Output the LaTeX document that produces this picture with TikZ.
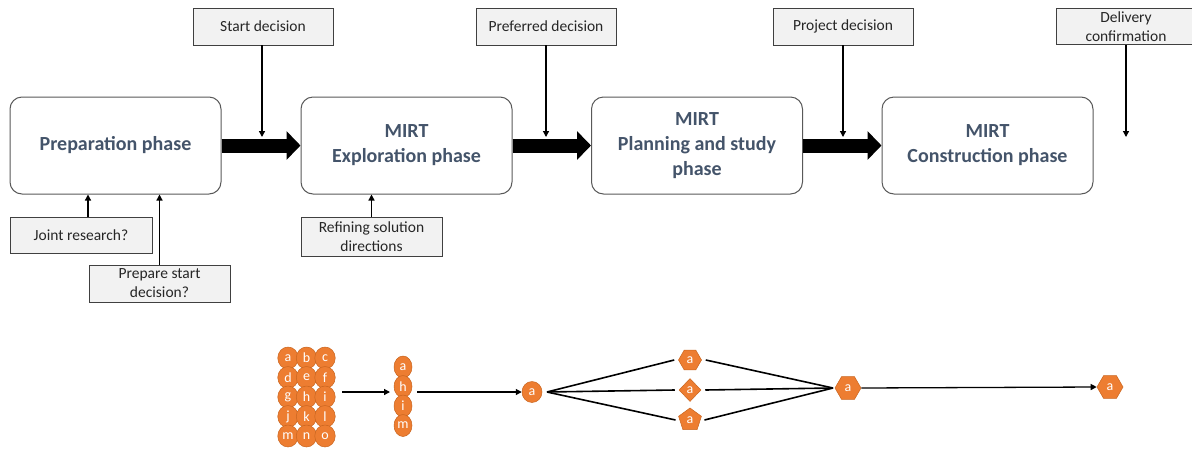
\documentclass[tikz,border=0pt]{standalone}
\usepackage{fontspec}
\setmainfont{Carlito}
\usetikzlibrary{arrows.meta,shapes.geometric}
\definecolor{phaseborder}{HTML}{595959}
\definecolor{titlecol}{HTML}{44546A}
\definecolor{gboxfill}{HTML}{F2F2F2}
\definecolor{gboxborder}{HTML}{404040}
\definecolor{gtext}{HTML}{262626}
\definecolor{orangefill}{HTML}{ED7D31}
\definecolor{orangeline}{HTML}{C9651F}
\begin{document}
\begin{tikzpicture}[x=1pt,y=-1pt,
  phase/.style={draw=phaseborder, line width=1pt, rounded corners=12pt, fill=white,
    font=\fontsize{20}{25}\selectfont\bfseries, text=titlecol, align=center,
    minimum width=211pt, minimum height=97pt, inner sep=0pt},
  gbox/.style={draw=gboxborder, fill=gboxfill, line width=0.8pt,
    font=\fontsize{15.5}{19}\selectfont, text=gtext, align=center,
    minimum width=140pt, minimum height=37pt, inner sep=0pt},
  bigarrow/.style={line width=14pt, -{Triangle[length=14pt,width=28pt]}},
  thinarrow/.style={line width=1.3pt, -{Triangle[length=6pt,width=6pt]}},
  fanline/.style={line width=1.6pt},
  dot/.style={ellipse, fill=orangefill, draw=orangeline, line width=0.5pt, text=white,
    font=\fontsize{14}{14}\selectfont, inner sep=0pt, minimum width=20.5pt, minimum height=22pt},
  tdot/.style={dot, minimum width=18pt},
  hexa/.style={regular polygon, regular polygon sides=6, fill=orangefill, draw=orangeline,
    line width=0.5pt, text=white, font=\fontsize{14}{14}\selectfont, inner sep=0pt, minimum size=#1},
  penta/.style={regular polygon, regular polygon sides=5, fill=orangefill, draw=orangeline,
    line width=0.5pt, text=white, font=\fontsize{14}{14}\selectfont, inner sep=0pt, minimum size=24pt},
  dia/.style={diamond, fill=orangefill, draw=orangeline, line width=0.5pt, text=white,
    font=\fontsize{14}{14}\selectfont, inner sep=0pt, minimum width=22pt, minimum height=23pt}
]
\useasboundingbox (0,0) rectangle (1192,448);

% phases
\node[phase] (prep) at (115.5,145.5) {Preparation phase};
\node[phase] (expl) at (406.5,145.5) {MIRT\\Exploration phase};
\node[phase] (plan) at (697,145.5) {MIRT\\Planning and study\\phase};
\node[phase] (cons) at (987.5,145.5) {MIRT\\Construction phase};

\draw[bigarrow] (prep.east) -- (expl.west);
\draw[bigarrow] (expl.east) -- (plan.west);
\draw[bigarrow] (plan.east) -- (cons.west);

% decision boxes
\node[gbox] (sd) at (263,26.5) {Start decision};
\node[gbox] (pd) at (546,26.5) {Preferred decision};
\node[gbox] (prd) at (843,26.5) {Project decision};
\node[gbox, minimum height=36pt] (dc) at (1126,26.5) {Delivery\\confirmation};

\coordinate (sdend) at (262,137);
\coordinate (pdend) at (546,137);
\coordinate (prdend) at (843,137);
\coordinate (dcend) at (1126,137);
\draw[thinarrow] (sd.south -| sdend) -- (sdend);
\draw[thinarrow] (pd.south -| pdend) -- (pdend);
\draw[thinarrow] (prd.south -| prdend) -- (prdend);
\draw[thinarrow] (dc.south -| dcend) -- (dcend);

% lower boxes
\node[gbox, minimum width=142pt, minimum height=36pt] (jr) at (81,235) {Joint research?};
\node[gbox, minimum width=141pt] (ps) at (159.5,283.5) {Prepare start\\decision?};
\node[gbox, minimum width=141pt, minimum height=39pt] (rs) at (371.5,236.5) {Refining solution\\directions};

\draw[thinarrow] ([xshift=7pt]jr.north) -- ([xshift=7pt]jr.north |- prep.south);
\draw[thinarrow] (ps.north) -- (ps.north |- prep.south);
\draw[thinarrow] (rs.north) -- (rs.north |- expl.south);

% bottom grid
\foreach \l [count=\i from 0] in {a,b,c,d,e,f,g,h,i,j,k,l,m,n,o} {
  \pgfmathtruncatemacro{\col}{mod(\i,3)}
  \pgfmathtruncatemacro{\row}{div(\i,3)}
  \node[dot] (g\l) at (288+18.5*\col, 358+19.5*\row) {\l};
}
\foreach \l [count=\i from 0] in {a,h,i,m} {
  \node[tdot] (s\l) at (403, 367+19.5*\i) {\l};
}
\coordinate (ga) at (342,392);
\coordinate (gb) at (390,392);
\draw[thinarrow] (ga) -- (gb);

\node[dot, minimum width=20pt, minimum height=21pt] (c1) at (532,392) {a};
\coordinate (colout) at (417,392);
\draw[thinarrow] (colout) -- (c1.west);

\node[hexa=23pt] (h1) at (690,360) {a};
\node[dia] (d1) at (690,390) {a};
\node[penta] (p1) at (690,420) {a};
\node[hexa=26pt] (h2) at (848,388) {a};
\node[hexa=26pt] (h3) at (1110,387) {a};

\coordinate (L) at (547,392);
\coordinate (R) at (833,388);
\draw[fanline] (L) -- ([xshift=-4pt]h1.west);
\draw[fanline] (L) -- ([xshift=-4pt]d1.west);
\draw[fanline] (L) -- ([xshift=-4pt]p1.west);
\draw[fanline] ([xshift=4pt]h1.east) -- (R);
\draw[fanline] ([xshift=4pt]d1.east) -- (R);
\draw[fanline] ([xshift=4pt]p1.east) -- (R);
\draw[thinarrow] (h2.east) -- (h3.west);
\end{tikzpicture}
\end{document}
